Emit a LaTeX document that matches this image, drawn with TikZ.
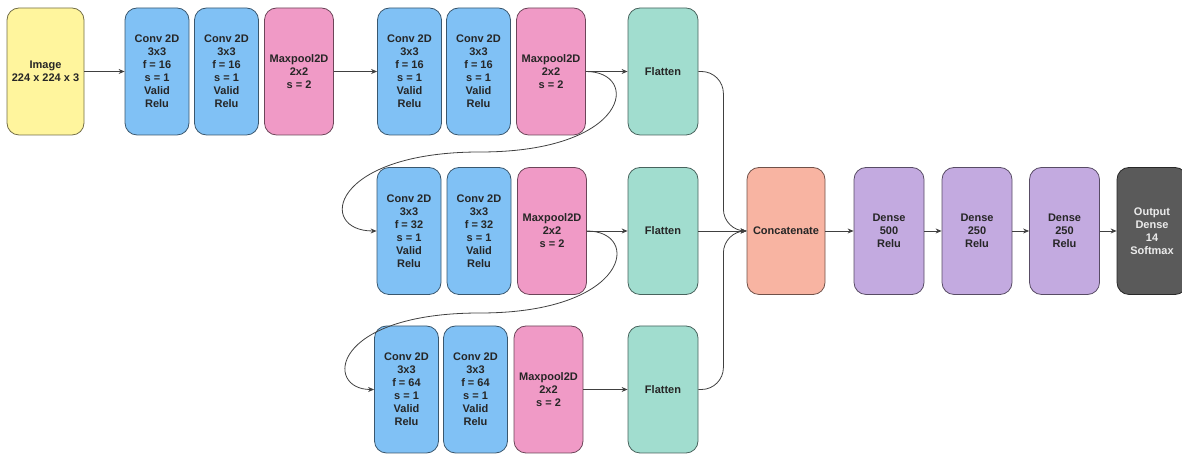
\documentclass[tikz,border=0pt]{standalone}
\usepackage{fontspec}
\setmainfont{Liberation Sans}
\usetikzlibrary{arrows.meta}

\definecolor{imgc}{HTML}{FFF59D}
\definecolor{convc}{HTML}{80C1F5}
\definecolor{poolc}{HTML}{F09AC6}
\definecolor{flatc}{HTML}{A1DDCF}
\definecolor{catc}{HTML}{F8B4A2}
\definecolor{densec}{HTML}{C3AAE0}
\definecolor{outc}{HTML}{5A5A5A}
\definecolor{linec}{HTML}{404040}

\tikzset{
blk/.style={draw=#1!45!black, fill=#1, rounded corners=12pt, line width=0.8pt,
  minimum height=127pt, inner sep=0pt, align=center, text=black!85,
  font=\fontsize{11}{13}\selectfont\bfseries},
conv/.style={blk=convc, minimum width=64pt},
pool/.style={blk=poolc, minimum width=69pt},
flat/.style={blk=flatc, minimum width=70pt},
dense/.style={blk=densec, minimum width=70pt},
arr/.style={draw=linec, line width=0.8pt, -{Stealth[length=6pt,width=5pt]}}
}

\begin{document}
\begin{tikzpicture}[x=1pt,y=1pt]
\useasboundingbox (0,0) rectangle (1182,454);

\node (img) at (45.5,382.5) [blk=imgc, minimum width=77pt] {Image\\224 x 224 x 3};

% first block
\node (c01) at (157,382.5) [conv] {Conv 2D\\3x3\\f = 16\\s = 1\\Valid\\Relu};
\node (c02) at (226.5,382.5) [conv] {Conv 2D\\3x3\\f = 16\\s = 1\\Valid\\Relu};
\node (mp0) at (299,382.5) [pool] {Maxpool2D\\2x2\\s = 2};

% row 1
\node (c11) at (409.5,382.5) [conv] {Conv 2D\\3x3\\f = 16\\s = 1\\Valid\\Relu};
\node (c12) at (478.5,382.5) [conv] {Conv 2D\\3x3\\f = 16\\s = 1\\Valid\\Relu};
\node (mp1) at (551,382.5) [pool] {Maxpool2D\\2x2\\s = 2};
\node (fl1) at (663,382.5) [flat] {Flatten};

% row 2
\node (c21) at (409,223) [conv] {Conv 2D\\3x3\\f = 32\\s = 1\\Valid\\Relu};
\node (c22) at (479,223) [conv] {Conv 2D\\3x3\\f = 32\\s = 1\\Valid\\Relu};
\node (mp2) at (552,223) [pool] {Maxpool2D\\2x2\\s = 2};
\node (fl2) at (663,223) [flat] {Flatten};

% row 3
\node (c31) at (406.5,64.5) [conv] {Conv 2D\\3x3\\f = 64\\s = 1\\Valid\\Relu};
\node (c32) at (475.5,64.5) [conv] {Conv 2D\\3x3\\f = 64\\s = 1\\Valid\\Relu};
\node (mp3) at (548.5,64.5) [pool] {Maxpool2D\\2x2\\s = 2};
\node (fl3) at (663,64.5) [flat] {Flatten};

% head
\node (cc) at (786,223) [blk=catc, minimum width=78pt] {Concatenate};
\node (d1) at (889,223) [dense] {Dense\\500\\Relu};
\node (d2) at (977,223) [dense] {Dense\\250\\Relu};
\node (d3) at (1064.5,223) [dense] {Dense\\250\\Relu};
\node (out) at (1152,223) [blk=outc, minimum width=70pt, text=white!92!black] {Output\\Dense\\14\\Softmax};

% wrap points between rows
\coordinate (w1) at (480,302);
\coordinate (w2) at (480,141);

\foreach \a/\b in {img/c01, mp0/c11, mp1/fl1, mp2/fl2, mp3/fl3, fl2/cc, cc/d1, d1/d2, d2/d3, d3/out}
  \draw[arr] (\a) -- (\b);

\draw[arr] (mp1.east) .. controls +(55,0) and +(150,0) .. (w1)
  .. controls +(-150,0) and +(-60,0) .. (c21.west);
\draw[arr] (mp2.east) .. controls +(55,0) and +(150,0) .. (w2)
  .. controls +(-150,0) and +(-50,0) .. (c31.west);

\draw[arr, rounded corners=22pt] (fl1.east) -- ++(25,0) |- (cc.west);
\draw[arr, rounded corners=22pt] (fl3.east) -- ++(25,0) |- (cc.west);
\end{tikzpicture}
\end{document}
